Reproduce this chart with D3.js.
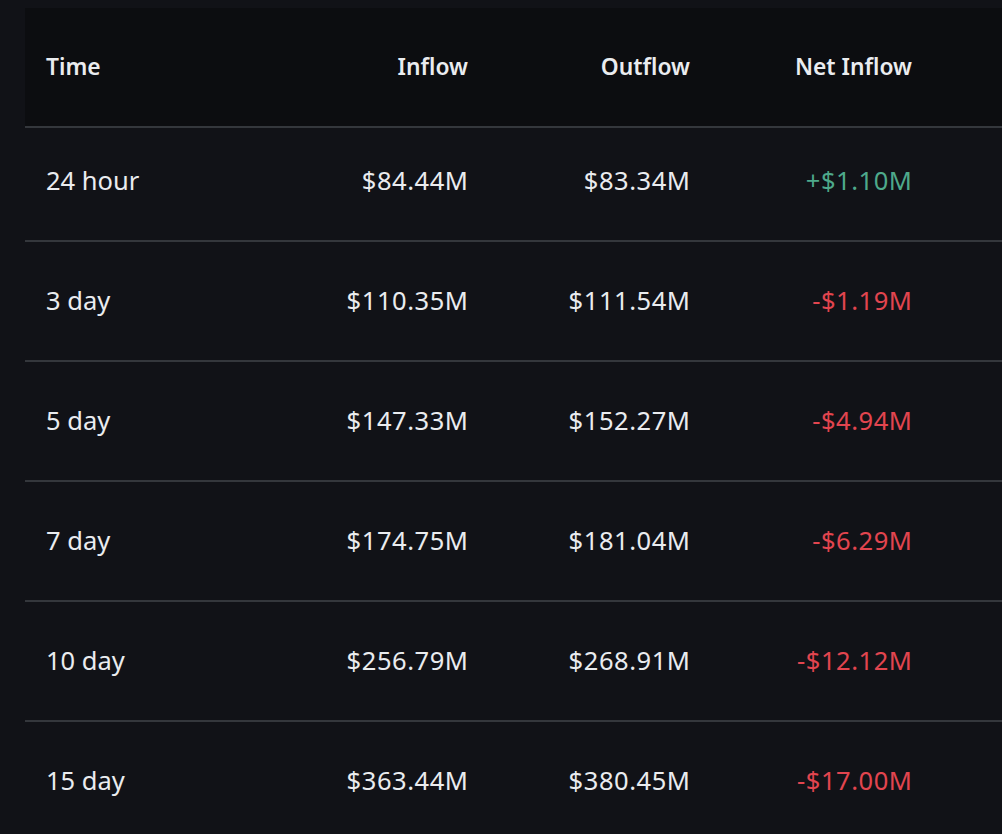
<!DOCTYPE html>
<html>
<head>
<meta charset="utf-8">
<script src="https://cdn.jsdelivr.net/npm/d3@7"></script>
<style>
  html, body { margin: 0; padding: 0; background: #111217; overflow: hidden; }
  svg { display: block; }
</style>
</head>
<body>
<svg id="chart"></svg>
<script>
const periods = ['24 hour', '3 day', '5 day', '7 day', '10 day', '15 day'];
const inflow = [84.44, 110.35, 147.33, 174.75, 256.79, 363.44];
const outflow = [83.34, 111.54, 152.27, 181.04, 268.91, 380.45];
const netInflow = [1.10, -1.19, -4.94, -6.29, -12.12, -17.00];
const headers = ['Time', 'Inflow', 'Outflow', 'Net Inflow'];

const width = 1002;
const height = 834;

const svg = d3.select('#chart')
    .attr('width', width)
    .attr('height', height);

// column anchors: first is left aligned, the rest right aligned
const colX = d3.scaleOrdinal()
    .domain(headers)
    .range([46, 468, 690, 912]);
const anchor = (h) => h === 'Time' ? 'start' : 'end';

// row centres
const rowY = d3.scaleLinear()
    .domain([0, 1])
    .range([181, 301]);

const money = d3.format('.2f');
const fmt = (v) => '$' + money(v) + 'M';
const fmtNet = (v) => (v >= 0 ? '+' : '-') + '$' + money(Math.abs(v)) + 'M';

const rows = periods.map(function(p, i) {
  return {period: p, inflow: inflow[i], outflow: outflow[i], net: netInflow[i]};
});

// header band
svg.append('rect')
    .attr('x', 25)
    .attr('y', 8)
    .attr('width', width - 25)
    .attr('height', 119)
    .attr('fill', '#0c0d10');

svg.append('g')
    .selectAll('text')
    .data(headers)
    .join('text')
    .attr('x', (d) => colX(d))
    .attr('y', 75)
    .attr('text-anchor', anchor)
    .attr('fill', '#eaecef')
    .style('font-family', '"Noto Sans", sans-serif')
    .style('font-weight', 600)
    .style('font-size', '22.8px')
    .text((d) => d);

// separators
const lineYs = [127].concat(rows.slice(0, -1).map((d, i) => rowY(i) + 60));
svg.append('g')
    .selectAll('line')
    .data(lineYs)
    .join('line')
    .attr('x1', 25)
    .attr('x2', width)
    .attr('y1', (d) => d)
    .attr('y2', (d) => d)
    .attr('stroke', '#34373c')
    .attr('stroke-width', 2);

// body rows
const row = svg.append('g')
    .selectAll('g')
    .data(rows)
    .join('g')
    .attr('transform', (d, i) => 'translate(0,' + (rowY(i) + 9) + ')')
    .style('font-family', '"Noto Sans", sans-serif')
    .style('font-size', '25.5px');

row.append('text')
    .attr('x', colX('Time'))
    .attr('fill', '#eaecef')
    .text((d) => d.period);

// numeric cells: a little tracking to match the wider digits of the original
const num = (sel) => sel.attr('text-anchor', 'end').style('letter-spacing', '0.55px');

row.append('text')
    .attr('x', colX('Inflow') + 0.5)
    .attr('fill', '#eaecef')
    .call(num)
    .text((d) => fmt(d.inflow));

row.append('text')
    .attr('x', colX('Outflow') + 0.5)
    .attr('fill', '#eaecef')
    .call(num)
    .text((d) => fmt(d.outflow));

row.append('text')
    .attr('x', colX('Net Inflow') + 0.5)
    .attr('fill', (d) => d.net >= 0 ? '#4ea98b' : '#e2454f')
    .call(num)
    .text((d) => fmtNet(d.net));
</script>
</body>
</html>
